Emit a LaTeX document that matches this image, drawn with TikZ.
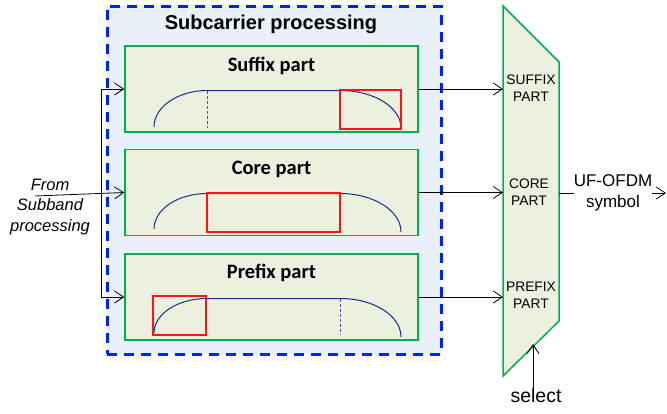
\documentclass[tikz,border=0pt]{standalone}
\usepackage{fontspec}
\setmainfont{Liberation Sans}
\newfontfamily\partfont{Carlito}
\usepackage{xcolor}
\usetikzlibrary{arrows.meta}
\definecolor{procblue}{RGB}{0,34,238}
\definecolor{procfill}{RGB}{234,240,248}
\definecolor{partgreen}{RGB}{0,176,80}
\definecolor{partfill}{RGB}{235,241,222}
\definecolor{wavenavy}{RGB}{28,42,140}
\definecolor{windowred}{RGB}{250,20,20}

\begin{document}
\begin{tikzpicture}[
      x=1pt, y=-1pt,
      outer/.style = {draw=procblue, line width=3pt, dash pattern=on 10pt off 7pt, fill=procfill,
                      minimum width=334pt, minimum height=348pt},
      part/.style = {draw=partgreen, line width=1.5pt, fill=partfill,
                     minimum width=293pt, minimum height=86pt},
      title/.style = {font=\fontsize{20}{24}\selectfont\bfseries},
      parttitle/.style = {font=\partfont\fontsize{20.5}{24}\selectfont\bfseries},
      mux/.style = {draw=partgreen, line width=1.5pt, fill=partfill},
      muxlabel/.style = {align=center, inner sep=0pt, font=\fontsize{13.8}{17}\selectfont},
      wave/.style = {draw=wavenavy, line width=1pt},
      wavedash/.style = {draw=wavenavy!80, line width=1pt, dash pattern=on 3pt off 2pt},
      window/.style = {draw=windowred, line width=1.5pt},
      conn/.style = {draw=black, line width=0.8pt, -{Straight Barb[length=9pt,width=12pt]}}
    ]
      \useasboundingbox (0,0) rectangle (667,413);

      \node[outer] (scproc) at (274,180) {};
      \node[title] (scproc-title) at (271,24) {Subcarrier processing};

      \node[part] (suffix) at (271.5,89) {};
      \node[part] (core) at (271.5,192.5) {};
      \node[part] (prefix) at (271.5,297) {};
      \node[parttitle] (suffix-title) at (271.5,66) {Suffix part};
      \node[parttitle] (core-title) at (271.5,169) {Core part};
      \node[parttitle] (prefix-title) at (271.5,273) {Prefix part};

      \draw[wave] (154,127) arc[start angle=180, end angle=270, x radius=53.5, y radius=36.5]
        -- (340.5,90.5) arc[start angle=270, end angle=360, x radius=60.5, y radius=37.5];
      \draw[wavedash] (207.5,90.5) -- (207.5,128);
      \draw[window] (340,90) rectangle (401,129);

      \draw[wave] (154,229) arc[start angle=180, end angle=270, x radius=53, y radius=35.5]
        -- (340,193.5) arc[start angle=270, end angle=360, x radius=61, y radius=38.5];
      \draw[window] (207,193) rectangle (340,232);

      \draw[wave] (154,333) arc[start angle=180, end angle=270, x radius=53, y radius=34.5]
        -- (340.5,298.5) arc[start angle=270, end angle=360, x radius=60.5, y radius=38.5];
      \draw[wavedash] (340.5,298.5) -- (340.5,335);
      \draw[window] (153,296) rectangle (206,335);

      \node[align=center, font=\fontsize{16.5}{20.5}\selectfont\itshape] (from) at (50,207)
        {From\\Subband\\processing};
      \coordinate (in) at (35,196);
      \coordinate (bus) at (101,196);
      \draw[conn] (in) -- (core.west);
      \draw[conn] (bus) |- (suffix.west);
      \draw[conn] (bus) |- (prefix.west);

      \draw[mux] (503,6) coordinate (mux-tl) -- (559,62) -- (559,321) -- (503,376) -- cycle;
      \node[muxlabel] (mux-sfx) at (531,88.5) {SUFFIX\\PART};
      \node[muxlabel] (mux-core) at (529,192.5) {CORE\\PART};
      \node[muxlabel] (mux-pfx) at (531,295.5) {PREFIX\\PART};

      \draw[conn] (suffix.east) -- (suffix.east -| mux-tl);
      \draw[conn] (core.east) -- (core.east -| mux-tl);
      \draw[conn] (prefix.east) -- (prefix.east -| mux-tl);

      \coordinate (mux-out) at (559,193);
      \coordinate (out-tip) at (666,193);
      \draw[conn] (mux-out) -- (out-tip);
      \node[fill=white, inner sep=0pt, align=center, font=\fontsize{17}{21}\selectfont] (out) at (613,193)
        {UF-OFDM\\symbol};

      \coordinate (sel-tip) at (533,344);
      \node[inner sep=1pt, font=\fontsize{19.5}{22}\selectfont] (select) at (536,396) {select};
      \draw[conn] (select.north -| sel-tip) -- (sel-tip);
    \end{tikzpicture}
\end{document}
